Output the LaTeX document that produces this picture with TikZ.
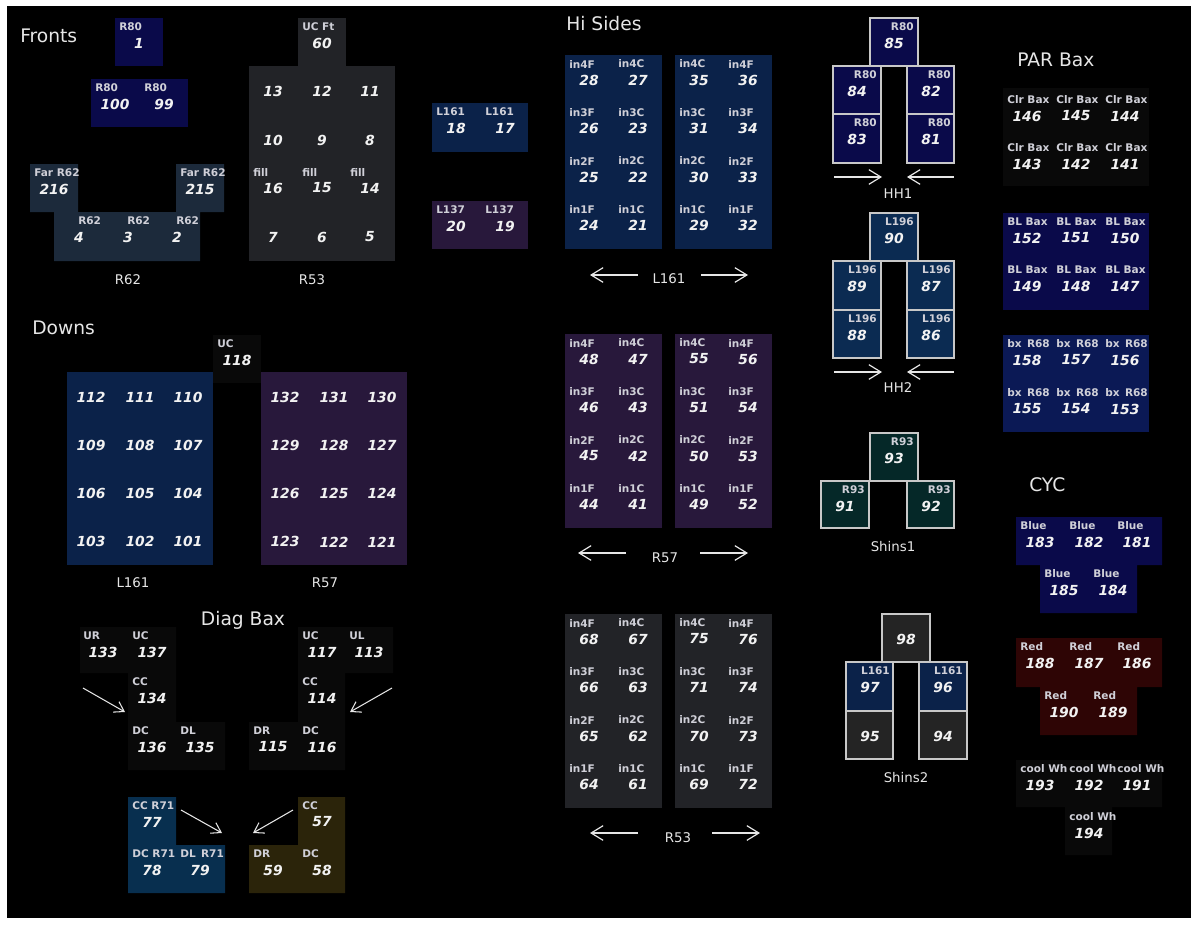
\documentclass[tikz,border=0pt]{standalone}
\usepackage{fontspec}
\setmainfont{DejaVu Sans}
\usetikzlibrary{arrows.meta}
\definecolor{cnavy}{HTML}{0A0A4A}
\definecolor{clblue}{HTML}{0B2249}
\definecolor{chh}{HTML}{0B2B52}
\definecolor{cslate}{HTML}{1C2A3B}
\definecolor{cpurp}{HTML}{28183B}
\definecolor{cgry}{HTML}{222327}
\definecolor{cbx}{HTML}{0B1955}
\definecolor{crb}{HTML}{082F4F}
\definecolor{colive}{HTML}{2B240A}
\definecolor{cred}{HTML}{2E0505}
\definecolor{cteal}{HTML}{052828}
\definecolor{cdk}{HTML}{090909}
\definecolor{cshg}{HTML}{242424}
\definecolor{labc}{HTML}{D0D0D8}
\definecolor{numc}{HTML}{F2F2F2}
\definecolor{ttlc}{HTML}{E6E6E6}
\definecolor{edgec}{HTML}{C8C8C8}
\newcommand\cL[4]{\node[lab,anchor=west] (l#4) at ({#1+4},{#2+9}) {#3};\node[num] (n#4) at ({#1+24},{#2+25}) {#4};}
\newcommand\cR[4]{\node[lab,anchor=east] (l#4) at ({#1+44},{#2+9}) {#3};\node[num] (n#4) at ({#1+24},{#2+25}) {#4};}
\newcommand\cN[3]{\node[num] (n#3) at ({#1+24},{#2+25}) {#3};}
\begin{document}
\begin{tikzpicture}[x=0.75pt,y=-0.75pt,
 lab/.style={font=\bfseries\fontsize{7.9}{9}\selectfont,text=labc,inner sep=0pt},
 num/.style={font=\bfseries\itshape\fontsize{10.4}{12}\selectfont,text=numc,inner sep=0pt},
 ttl/.style={font=\fontsize{14}{16}\selectfont,text=ttlc,inner sep=0pt},
 sub/.style={font=\fontsize{10}{12}\selectfont,text=ttlc,inner sep=0pt},
 arr/.style={draw=ttlc,line width=0.9pt,-{Straight Barb[length=9pt,width=11pt,line width=0.9pt]}},
 darr/.style={draw=ttlc,line width=0.8pt,-{Straight Barb[length=7pt,width=9pt,line width=0.8pt]}},
 bxd/.style={draw=edgec,line width=0.9pt}]
\useasboundingbox (0,0) rectangle (1191,924);
\fill[white] (0,0) rectangle (1191,924);
\fill[black] (7,6) rectangle (1191,918);

% ---------------- Fronts
\node[ttl,anchor=west] (tFronts) at (20,36) {Fronts};
\fill[cnavy] (115,18) rectangle (163,66);
\cL{115}{18}{R80}{1}
\fill[cnavy] (91,79) rectangle (188,127);
\cL{91}{79}{R80}{100}\cL{140}{79}{R80}{99}
\fill[cslate] (30,164) -- (78,164) -- (78,212) -- (176,212) -- (176,164) -- (224,164) -- (224,212) -- (200,212) -- (200,261) -- (54,261) -- (54,212) -- (30,212) -- cycle;
\cL{30}{164}{Far R62}{216}\cL{176}{164}{Far R62}{215}
\node[lab,anchor=west] (l4) at (78,221) {R62}; \node[num] (n4) at (79,237) {4};
\node[lab,anchor=west] (l3) at (127,221) {R62}; \node[num] (n3) at (128,237) {3};
\node[lab,anchor=west] (l2) at (176,221) {R62}; \node[num] (n2) at (177,237) {2};
\node[sub] (tR62) at (128,280) {R62};

% ---------------- R53 front
\fill[cgry] (298,18) rectangle (346,66);
\cL{298}{18}{UC Ft}{60}
\fill[cgry] (249,66) rectangle (395,261);
\cN{249}{66}{13}\cN{298}{66}{12}\cN{346}{66}{11}
\cN{249}{115}{10}\cN{298}{115}{9}\cN{346}{115}{8}
\cL{249}{163}{fill}{16}\cL{298}{163}{fill}{15}\cL{346}{163}{fill}{14}
\cN{249}{212}{7}\cN{298}{212}{6}\cN{346}{212}{5}
\node[sub] (tR53) at (312,280) {R53};

% ---------------- L161 / L137
\fill[clblue] (432,103) rectangle (528,152);
\cL{432}{103}{L161}{18}\cL{481}{103}{L161}{17}
\fill[cpurp] (432,201) rectangle (528,249);
\cL{432}{201}{L137}{20}\cL{481}{201}{L137}{19}

% ---------------- Hi Sides
\node[ttl,anchor=west] (tHi) at (566,24) {Hi Sides};
\fill[clblue] (565,55) rectangle (662,249);
\fill[clblue] (675,55) rectangle (772,249);
\foreach \rw/\a/\b/\c/\d [count=\i from 0] in {4/28/27/35/36,3/26/23/31/34,2/25/22/30/33,1/24/21/29/32}{
 \cL{565}{55+48.5*\i}{in\rw F}{\a}\cL{614}{55+48.5*\i}{in\rw C}{\b}\cL{675}{55+48.5*\i}{in\rw C}{\c}\cL{724}{55+48.5*\i}{in\rw F}{\d}}
\node[sub] (tHL161) at (669,279) {L161};
\coordinate (a1s) at (638,275); \coordinate (a1e) at (590,275);
\coordinate (a2s) at (701,275); \coordinate (a2e) at (748,275);
\draw[arr] (a1s) -- (a1e); \draw[arr] (a2s) -- (a2e);

\fill[cpurp] (565,334) rectangle (662,528);
\fill[cpurp] (675,334) rectangle (772,528);
\foreach \rw/\a/\b/\c/\d [count=\i from 0] in {4/48/47/55/56,3/46/43/51/54,2/45/42/50/53,1/44/41/49/52}{
 \cL{565}{334+48.5*\i}{in\rw F}{\a}\cL{614}{334+48.5*\i}{in\rw C}{\b}\cL{675}{334+48.5*\i}{in\rw C}{\c}\cL{724}{334+48.5*\i}{in\rw F}{\d}}
\node[sub] (tHR57) at (665,558) {R57};
\coordinate (a3s) at (626,553); \coordinate (a3e) at (578,553);
\coordinate (a4s) at (700,553); \coordinate (a4e) at (748,553);
\draw[arr] (a3s) -- (a3e); \draw[arr] (a4s) -- (a4e);

\fill[cgry] (565,614) rectangle (662,808);
\fill[cgry] (675,614) rectangle (772,808);
\foreach \rw/\a/\b/\c/\d [count=\i from 0] in {4/68/67/75/76,3/66/63/71/74,2/65/62/70/73,1/64/61/69/72}{
 \cL{565}{614+48.5*\i}{in\rw F}{\a}\cL{614}{614+48.5*\i}{in\rw C}{\b}\cL{675}{614+48.5*\i}{in\rw C}{\c}\cL{724}{614+48.5*\i}{in\rw F}{\d}}
\node[sub] (tHR53) at (678,838) {R53};
\coordinate (a5s) at (638,833); \coordinate (a5e) at (590,833);
\coordinate (a6s) at (712,833); \coordinate (a6e) at (760,833);
\draw[arr] (a5s) -- (a5e); \draw[arr] (a6s) -- (a6e);

% ---------------- HH1
\filldraw[fill=cnavy,bxd] (870,18) rectangle (918,66);
\filldraw[fill=cnavy,bxd] (833,66) rectangle (881,114);
\filldraw[fill=cnavy,bxd] (833,114) rectangle (881,163);
\filldraw[fill=cnavy,bxd] (907,66) rectangle (954,114);
\filldraw[fill=cnavy,bxd] (907,114) rectangle (954,163);
\cR{870}{18}{R80}{85}\cR{833}{66}{R80}{84}\cR{833}{114}{R80}{83}\cR{907}{66}{R80}{82}\cR{907}{114}{R80}{81}
\coordinate (b1s) at (834,177); \coordinate (b1e) at (882,177);
\coordinate (b2s) at (954,177); \coordinate (b2e) at (907,177);
\draw[arr] (b1s) -- (b1e); \draw[arr] (b2s) -- (b2e);
\node[sub] (tHH1) at (898,194) {HH1};

% ---------------- HH2
\filldraw[fill=chh,bxd] (870,213) rectangle (918,261);
\filldraw[fill=chh,bxd] (833,261) rectangle (881,310);
\filldraw[fill=chh,bxd] (833,310) rectangle (881,358);
\filldraw[fill=chh,bxd] (907,261) rectangle (954,310);
\filldraw[fill=chh,bxd] (907,310) rectangle (954,358);
\cR{870}{213}{L196}{90}\cR{833}{261}{L196}{89}\cR{833}{310}{L196}{88}\cR{907}{261}{L196}{87}\cR{907}{310}{L196}{86}
\coordinate (b3s) at (834,372); \coordinate (b3e) at (882,372);
\coordinate (b4s) at (954,372); \coordinate (b4e) at (907,372);
\draw[arr] (b3s) -- (b3e); \draw[arr] (b4s) -- (b4e);
\node[sub] (tHH2) at (898,388) {HH2};

% ---------------- Shins
\filldraw[fill=cteal,bxd] (870,433) rectangle (918,481);
\filldraw[fill=cteal,bxd] (821,481) rectangle (869,528);
\filldraw[fill=cteal,bxd] (907,481) rectangle (954,528);
\cR{870}{433}{R93}{93}\cR{821}{481}{R93}{91}\cR{907}{481}{R93}{92}
\node[sub] (tSh1) at (893,547) {Shins1};
\filldraw[fill=cshg,bxd] (882,614) rectangle (930,662);
\filldraw[fill=clblue,bxd] (846,662) rectangle (893,711);
\filldraw[fill=clblue,bxd] (919,662) rectangle (967,711);
\filldraw[fill=cshg,bxd] (846,711) rectangle (893,759);
\filldraw[fill=cshg,bxd] (919,711) rectangle (967,759);
\cN{882}{614}{98}\cR{846}{662}{L161}{97}\cR{919}{662}{L161}{96}\cN{846}{711}{95}\cN{919}{711}{94}
\node[sub] (tSh2) at (906,778) {Shins2};

% ---------------- PAR Bax
\node[ttl,anchor=west] (tPAR) at (1017,60) {PAR Bax};
\fill[cdk] (1003,88) rectangle (1149,186);
\cL{1003}{91}{Clr Bax}{146}\cL{1052}{91}{Clr Bax}{145}\cL{1101}{91}{Clr Bax}{144}
\cL{1003}{139}{Clr Bax}{143}\cL{1052}{139}{Clr Bax}{142}\cL{1101}{139}{Clr Bax}{141}
\fill[cnavy] (1003,213) rectangle (1149,310);
\cL{1003}{213}{BL Bax}{152}\cL{1052}{213}{BL Bax}{151}\cL{1101}{213}{BL Bax}{150}
\cL{1003}{261}{BL Bax}{149}\cL{1052}{261}{BL Bax}{148}\cL{1101}{261}{BL Bax}{147}
\fill[cbx] (1003,335) rectangle (1149,432);
\cL{1003}{335}{bx~\,R68}{158}\cL{1052}{335}{bx~\,R68}{157}\cL{1101}{335}{bx~\,R68}{156}
\cL{1003}{384}{bx~\,R68}{155}\cL{1052}{384}{bx~\,R68}{154}\cL{1101}{384}{bx~\,R68}{153}

% ---------------- CYC
\node[ttl,anchor=west] (tCYC) at (1029,485) {CYC};
\fill[cnavy] (1016,517) -- (1162,517) -- (1162,565) -- (1137,565) -- (1137,613) -- (1040,613) -- (1040,565) -- (1016,565) -- cycle;
\cL{1016}{517}{Blue}{183}\cL{1065}{517}{Blue}{182}\cL{1113}{517}{Blue}{181}
\cL{1040}{565}{Blue}{185}\cL{1089}{565}{Blue}{184}
\fill[cred] (1016,638) -- (1162,638) -- (1162,687) -- (1137,687) -- (1137,735) -- (1040,735) -- (1040,687) -- (1016,687) -- cycle;
\cL{1016}{638}{Red}{188}\cL{1065}{638}{Red}{187}\cL{1113}{638}{Red}{186}
\cL{1040}{687}{Red}{190}\cL{1089}{687}{Red}{189}
\fill[cdk] (1016,760) -- (1162,760) -- (1162,807) -- (1112,807) -- (1112,855) -- (1065,855) -- (1065,807) -- (1016,807) -- cycle;
\cL{1016}{760}{cool Wh}{193}\cL{1065}{760}{cool Wh}{192}\cL{1113}{760}{cool Wh}{191}
\cL{1065}{808}{cool Wh}{194}

% ---------------- Downs
\node[ttl,anchor=west] (tDowns) at (32,328) {Downs};
\fill[cdk] (213,335) rectangle (261,383);
\cL{213}{335}{UC}{118}
\fill[clblue] (67,372) rectangle (213,565);
\foreach \a/\b/\c [count=\i from 0] in {112/111/110,109/108/107,106/105/104,103/102/101}{
 \cN{67}{372+48.3*\i}{\a}\cN{116}{372+48.3*\i}{\b}\cN{164}{372+48.3*\i}{\c}}
\fill[cpurp] (261,372) rectangle (407,565);
\foreach \a/\b/\c [count=\i from 0] in {132/131/130,129/128/127,126/125/124,123/122/121}{
 \cN{261}{372+48.3*\i}{\a}\cN{310}{372+48.3*\i}{\b}\cN{358}{372+48.3*\i}{\c}}
\node[sub] (tDL161) at (133,583) {L161};
\node[sub] (tDR57) at (325,583) {R57};

% ---------------- Diag Bax
\node[ttl] (tDiag) at (243,620) {Diag Bax};
\fill[cdk] (80,627) -- (176,627) -- (176,722) -- (225,722) -- (225,770) -- (128,770) -- (128,673) -- (80,673) -- cycle;
\fill[cdk] (298,627) -- (393,627) -- (393,673) -- (345,673) -- (345,770) -- (249,770) -- (249,722) -- (298,722) -- cycle;
\cL{79}{627}{UR}{133}\cL{128}{627}{UC}{137}\cL{128}{673}{CC}{134}\cL{128}{722}{DC}{136}\cL{176}{722}{DL}{135}
\cL{298}{627}{UC}{117}\cL{345}{627}{UL}{113}\cL{298}{673}{CC}{114}\cL{249}{722}{DR}{115}\cL{298}{722}{DC}{116}
\coordinate (d1s) at (83,688); \coordinate (d1e) at (125,712);
\coordinate (d2s) at (392,688); \coordinate (d2e) at (350,712);
\draw[darr] (d1s) -- (d1e); \draw[darr] (d2s) -- (d2e);
\fill[crb] (128,797) -- (176,797) -- (176,845) -- (225,845) -- (225,893) -- (128,893) -- cycle;
\cL{128}{797}{CC R71}{77}\cL{128}{845}{DC R71}{78}\cL{176}{845}{DL~\,R71}{79}
\fill[colive] (298,797) -- (345,797) -- (345,893) -- (249,893) -- (249,845) -- (298,845) -- cycle;
\cL{298}{797}{CC}{57}\cL{249}{845}{DR}{59}\cL{298}{845}{DC}{58}
\coordinate (d3s) at (181,810); \coordinate (d3e) at (222,833);
\coordinate (d4s) at (293,810); \coordinate (d4e) at (253,833);
\draw[darr] (d3s) -- (d3e); \draw[darr] (d4s) -- (d4e);
\end{tikzpicture}
\end{document}
